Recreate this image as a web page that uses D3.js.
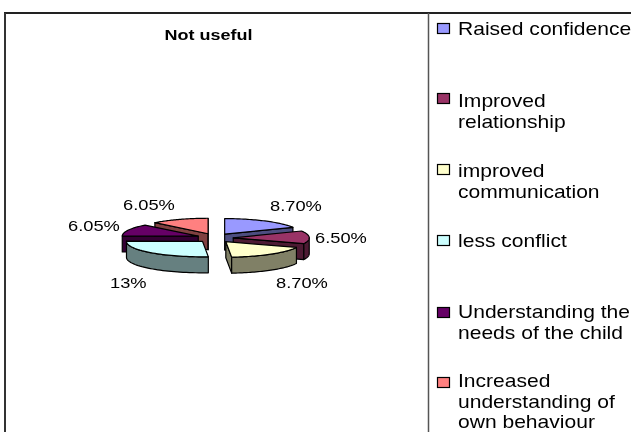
<!DOCTYPE html>
<html><head><meta charset="utf-8">
<script src="https://cdn.jsdelivr.net/npm/d3@7/dist/d3.min.js"></script>
<style>html,body{margin:0;padding:0;background:#fff;overflow:hidden}svg{display:block;filter:blur(0.35px)}text{font-family:"Liberation Sans",Arial,sans-serif;fill:#000}</style>
</head><body><div id="c"></div>
<script>
const categories=["Raised confidence","Improved relationship","improved communication","less conflict","Understanding the needs of the child","Increased understanding of own behaviour"];
const values=[8.70,6.50,8.70,13,6.05,6.05];
const valueLabels=["8.70%","6.50%","8.70%","13%","6.05%","6.05%"];
const topColors=["#9999ff","#993366","#ffffcc","#ccffff","#660066","#ff8080"];
const sideColors=["#4d4d80","#4d1a33","#808066","#668080","#330033","#804040"];
const legendLines=[["Raised confidence"],["Improved","relationship"],["improved","communication"],["less conflict"],["Understanding the","needs of the child"],["Increased","understanding of","own behaviour"]];
const legendBaselines=[35,107,177,247,318,387];
const legendSwatchTops=[23,93,164,235,307,377];
const legendLeading=[21,21,21,21,21,20.5];
const labelPos=[[270,211],[315,243],[276,288],[110,288],[68,231],[123,210]];

const W=631,H=432;
const svg=d3.select("#c").append("svg").attr("width",W).attr("height",H);
function txt(x,y,s,size,sx,weight){
  svg.append("text").attr("transform",`translate(${x},${y}) scale(${sx},1)`)
    .attr("font-size",size).attr("font-weight",weight||"normal").text(s);
}
// frame
const fr=svg.append("g").attr("fill","none");
fr.append("line").attr("x1",4).attr("x2",W).attr("y1",13).attr("y2",13).attr("stroke","#222").attr("stroke-width",2);
fr.append("line").attr("x1",428.5).attr("x2",428.5).attr("y1",13).attr("y2",H).attr("stroke","#555").attr("stroke-width",1.5);
fr.append("line").attr("x1",5).attr("x2",5).attr("y1",13).attr("y2",H).attr("stroke","#333").attr("stroke-width",2);

txt(164.5,40,"Not useful",15,1.2,"bold");

// pie: unit-circle coordinates projected through linear scales
const sx=d3.scaleLinear().domain([-1,1]).range([215-76,215+76]);
const sy=d3.scaleLinear().domain([-1,1]).range([238-15.5,238+15.5]);
const depth=16, explode=0.24;
const arcs=d3.pie().sort(null).value(d=>d)(values);
const line=d3.line();
const slices=arcs.map((a,i)=>{
  const mid=(a.startAngle+a.endAngle)/2;
  const ox=Math.sin(mid)*explode, oy=-Math.cos(mid)*explode*1.23;
  const P=t=>[sx(ox+Math.sin(t)),sy(oy-Math.cos(t))];
  const apex=[sx(ox),sy(oy)];
  const rim=d3.range(0,41).map(k=>P(a.startAngle+(a.endAngle-a.startAngle)*k/40));
  return {i,apex,rim,mid};
});
function wall(pts,c){
  const low=pts.slice().reverse().map(p=>[p[0],p[1]+depth]);
  svg.append("path").attr("d",line(pts.concat(low))+"Z").attr("fill",c)
    .attr("stroke","#000").attr("stroke-width",1.2).attr("stroke-linejoin","round");
}
// back-to-front paint order
const order=[5,0,4,1,3,2];
order.forEach(i=>{
  const s=slices[i], c=sideColors[i];
  const first=s.rim[0], last=s.rim[s.rim.length-1];
  if(first[0]<s.apex[0]) wall([s.apex,first],c);
  if(s.apex[0]<last[0]) wall([last,s.apex],c);
  let run=[];
  for(let k=0;k<s.rim.length-1;k++){
    if(s.rim[k+1][0]<s.rim[k][0]){ if(!run.length) run.push(s.rim[k]); run.push(s.rim[k+1]); }
  }
  if(run.length) wall(run,c);
  svg.append("path").attr("d",line([s.apex,...s.rim])+"Z").attr("fill",topColors[i])
    .attr("stroke","#000").attr("stroke-width",1.2).attr("stroke-linejoin","round");
});

valueLabels.forEach((l,i)=>txt(labelPos[i][0],labelPos[i][1],l,15,1.22));

// legend
categories.forEach((c,i)=>{
  const by=legendBaselines[i];
  svg.append("rect").attr("x",437.5).attr("y",legendSwatchTops[i]+.5).attr("width",12).attr("height",10)
    .attr("fill",topColors[i]).attr("stroke","#000").attr("stroke-width",1.2);
  legendLines[i].forEach((t,j)=>txt(458,by+j*legendLeading[i],t,18,1.17));
});
</script></body></html>
